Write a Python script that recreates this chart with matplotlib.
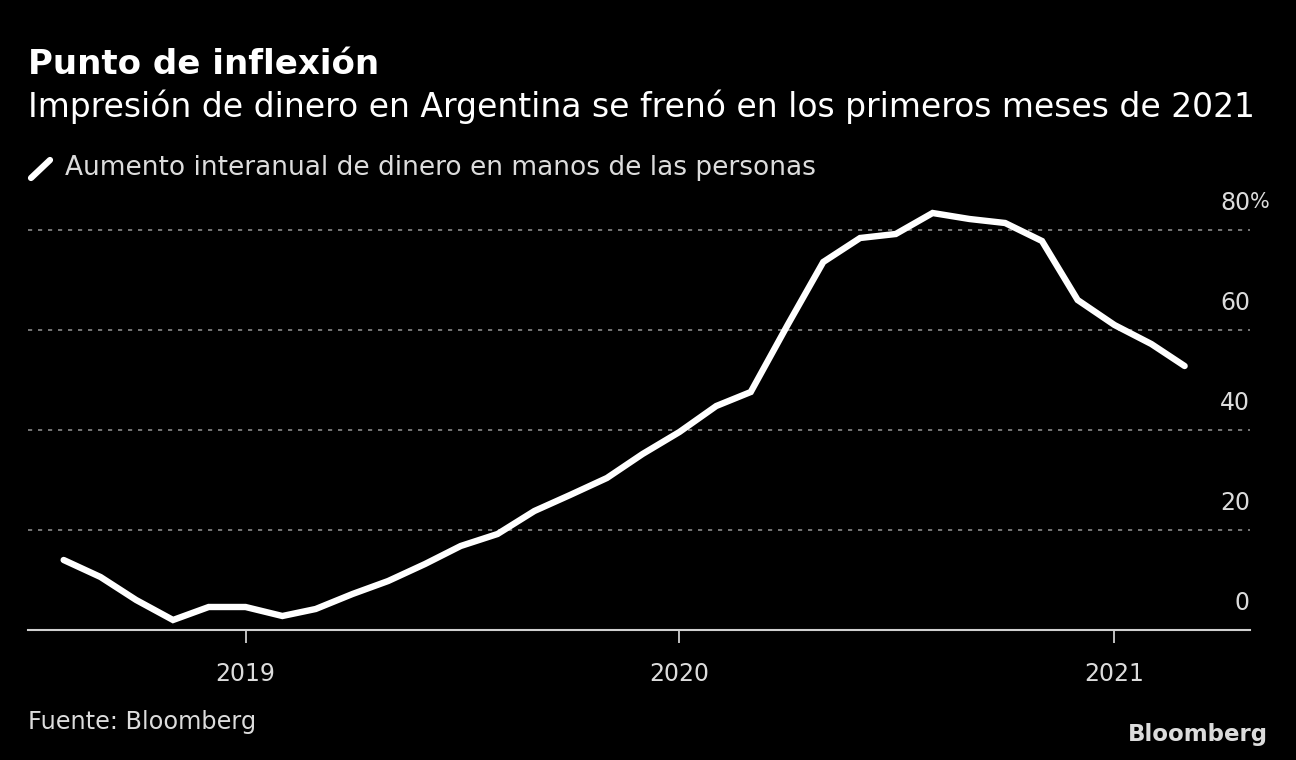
import numpy as np
import pandas as pd
import matplotlib
matplotlib.use("Agg")
import matplotlib.pyplot as plt
from matplotlib.lines import Line2D

# monthly data, Aug 2018 - Mar 2021
months = pd.date_range("2018-08-01", "2021-03-01", freq="MS")
growth = [14.0, 10.6, 6.0, 2.0, 4.6, 4.6, 2.8, 4.2, 7.2, 9.8, 13.2, 16.8,
          19.2, 23.8, 27.0, 30.4, 35.2, 39.6, 44.8, 47.6, 61.0, 73.6, 78.4, 79.2,
          83.4, 82.2, 81.4, 77.8, 66.0, 61.0, 57.2, 52.8]
y_ticks = [0, 20, 40, 60, 80]
y_labels = ["0", "20", "40", "60", "80%"]
x_ticks = pd.to_datetime(["2019-01-01", "2020-01-01", "2021-01-01"])
x_labels = ["2019", "2020", "2021"]

plt.rcParams['font.family'] = ['DejaVu Sans']

W, H = 1296, 760
fig = plt.figure(figsize=(W / 100, H / 100), dpi=100, facecolor="black")

# axes: x from 28 to 1250 px, y=0 at 630 px, 5 px per unit
left, right = 28, 1250
ymin, ymax = 0, 86
bottom_px = 630
top_px = bottom_px - (ymax - ymin) * 5
ax = fig.add_axes([left / W, (H - bottom_px) / H, (right - left) / W, (bottom_px - top_px) / H])
ax.set_facecolor("black")

ax.plot(months, growth, color="white", lw=4.6, solid_capstyle="round",
        solid_joinstyle="miter", zorder=3)

ax.set_xlim(pd.Timestamp("2018-07-02"), pd.Timestamp("2021-04-25"))
ax.set_ylim(ymin, ymax)

for v in y_ticks[1:]:
    ax.axhline(v, color="#8a8a8a", lw=1.2, ls=(0, (2.5, 3.5)), zorder=1)

for s in ["top", "right", "left"]:
    ax.spines[s].set_visible(False)
ax.spines["bottom"].set_color("#d0d0d0")
ax.spines["bottom"].set_linewidth(1.5)

ax.set_yticks([])
ax.set_xticks(x_ticks)
ax.set_xticklabels(x_labels, fontsize=17, color="#dcdcdc")
ax.tick_params(axis="x", length=9, width=1.3, color="#d0d0d0", pad=14)

# y labels on the right, above gridlines
trans = ax.get_yaxis_transform()
for v, lab in zip(y_ticks, y_labels):
    if lab.endswith("%"):
        ax.text(1.0, v + 5.5, "80", transform=trans, ha="right", va="center",
                fontsize=17, color="#dcdcdc")
        ax.text(1.0, v + 5.5, "%", transform=trans, ha="left", va="center",
                fontsize=15, color="#dcdcdc")
    else:
        ax.text(1.0, v + 5.5, lab, transform=trans, ha="right", va="center",
                fontsize=17, color="#dcdcdc")

# titles
fig.text(28 / W, 1 - 64 / H, "Punto de inflexión", fontsize=24.5, fontweight="bold",
         color="white", va="center", ha="left")
fig.text(28 / W, 1 - 107 / H, "Impresión de dinero en Argentina se frenó en los primeros meses de 2021",
         fontsize=23.8, color="white", va="center", ha="left")

# legend
fig.add_artist(Line2D([31 / W, 50 / W], [1 - 178 / H, 1 - 160 / H], color="white", lw=4.5,
                      solid_capstyle="round", transform=fig.transFigure))
fig.text(65 / W, 1 - 168 / H, "Aumento interanual de dinero en manos de las personas",
         fontsize=19, color="#dcdcdc", va="center", ha="left")

# footer
fig.text(28 / W, 1 - 722 / H, "Fuente: Bloomberg", fontsize=17.3, color="#dcdcdc",
         va="center", ha="left")
fig.text(1268 / W, 1 - 735 / H, "Bloomberg", fontsize=16.5, fontweight="bold",
         color="#dcdcdc", va="center", ha="right")

fig.savefig("out.png", dpi=100, facecolor="black")
